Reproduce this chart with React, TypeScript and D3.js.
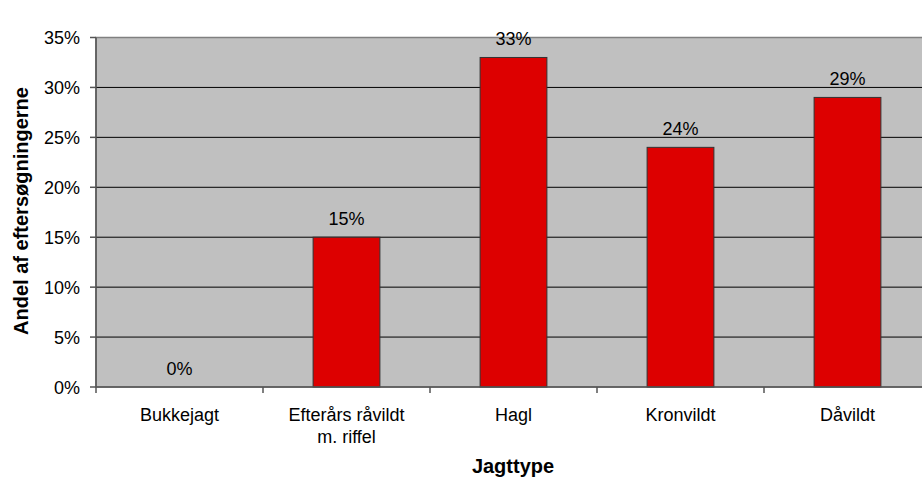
import React from "react";
import * as d3 from "d3";

const categories = ["Bukkejagt", "Efterårs råvildt|m. riffel", "Hagl", "Kronvildt", "Dåvildt"];
const values = [0, 15, 33, 24, 29];
const yTicks = [0, 5, 10, 15, 20, 25, 30, 35];

export default function App() {
  const W = 922, H = 479;
  const left = 96, top = 37.5, bottom = 387, right = 931;
  const x = d3.scaleBand().domain(categories).range([left, right]).paddingInner(0).paddingOuter(0);
  const y = d3.scaleLinear().domain([0, 35]).range([bottom, top]);
  const bw = x.bandwidth() * 0.4;
  const font = "Liberation Sans, Arial, sans-serif";
  const fs = 18;
  return (
    <svg width={W} height={H} style={{ position: "absolute", left: 0, top: 0 }} fontFamily={font}>
      <rect x={left} y={top} width={right - left} height={bottom - top} fill="#c0c0c0" stroke="#808080" strokeWidth={1.5} />
      {yTicks.filter(t => t > 0 && t < 35).map(t => (
        <line key={t} x1={left} x2={right} y1={y(t)} y2={y(t)} stroke="#000" strokeWidth={1} />
      ))}
      {values.map((v, i) => {
        const cx = x(categories[i])! + x.bandwidth() / 2;
        return (
          <g key={i}>
            {v > 0 && (
              <rect x={cx - bw / 2} y={y(v)} width={bw} height={bottom - y(v)} fill="#dd0000" stroke="#333" strokeWidth={1} />
            )}
            <text x={cx} y={y(v) - 12} textAnchor="middle" fontSize={fs} fill="#000">{v}%</text>
          </g>
        );
      })}
      <line x1={left} x2={left} y1={top} y2={bottom} stroke="#555" strokeWidth={1.5} />
      <line x1={left} x2={right} y1={bottom} y2={bottom} stroke="#555" strokeWidth={1.5} />
      {yTicks.map(t => (
        <g key={t}>
          <line x1={left - 6} x2={left} y1={y(t)} y2={y(t)} stroke="#555" strokeWidth={1.5} />
          <text x={80} y={y(t) + 6.5} textAnchor="end" fontSize={fs}>{t}%</text>
        </g>
      ))}
      {categories.map((c, i) => {
        const x0 = x(c)!;
        const lines = c.split("|");
        return (
          <g key={c}>
            <line x1={x0} x2={x0} y1={bottom} y2={bottom + 6} stroke="#555" strokeWidth={1.5} />
            {lines.map((l, j) => (
              <text key={j} x={x0 + x.bandwidth() / 2} y={421 + j * 22} textAnchor="middle" fontSize={fs}>{l}</text>
            ))}
          </g>
        );
      })}
      <text x={513} y={473} textAnchor="middle" fontSize={20} fontWeight="bold">Jagttype</text>
      <text transform={`translate(27.5, 211) rotate(-90)`} textAnchor="middle" fontSize={20} fontWeight="bold">Andel af eftersøgningerne</text>
    </svg>
  );
}
